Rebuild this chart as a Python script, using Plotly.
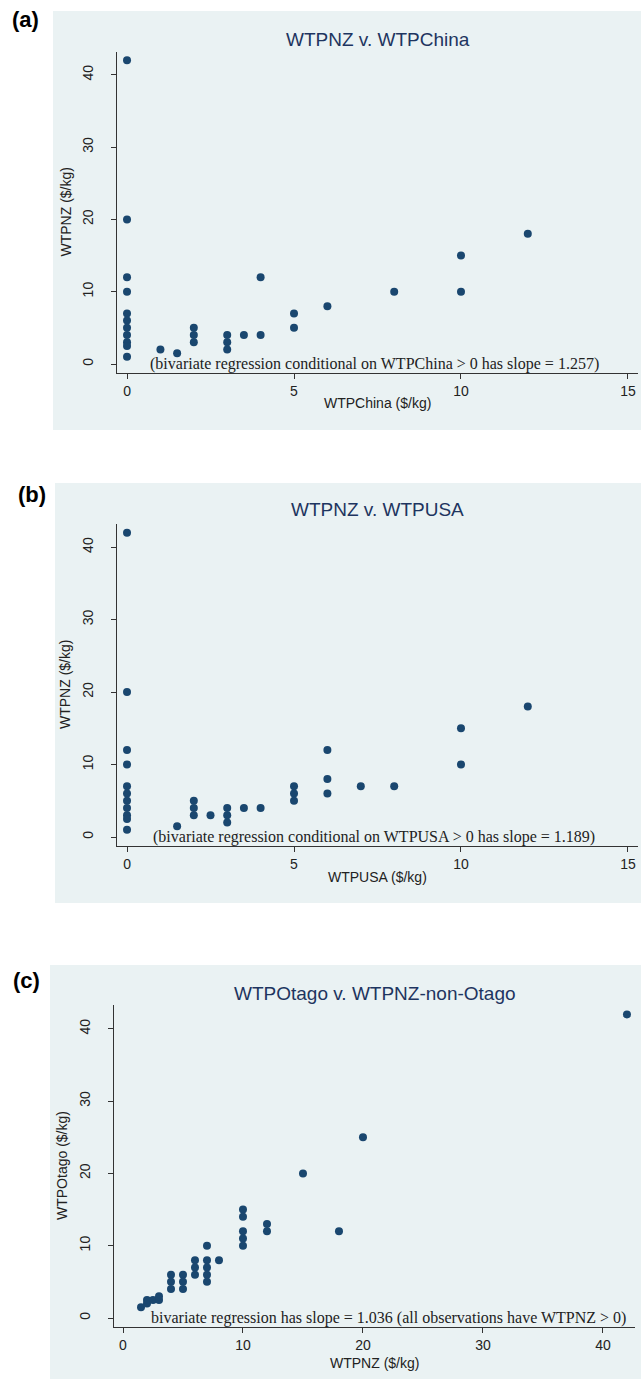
import plotly.graph_objects as go

# ---------------- data ----------------
# Panel (a): WTPNZ v. WTPChina
a_china = [0, 0, 0, 0, 0, 0, 0, 0, 0, 0, 0,
           1, 1.5, 2, 2, 2, 3, 3, 3, 3.5, 4, 4, 5, 5, 6, 8, 10, 10, 12]
a_nz = [42, 20, 12, 10, 7, 6, 5, 4, 3, 2.5, 1,
        2, 1.5, 5, 4, 3, 4, 3, 2, 4, 12, 4, 7, 5, 8, 10, 15, 10, 18]

# Panel (b): WTPNZ v. WTPUSA
b_usa = [0, 0, 0, 0, 0, 0, 0, 0, 0, 0, 0,
         1.5, 2, 2, 2, 2.5, 3, 3, 3, 3.5, 4, 5, 5, 5, 6, 6, 6, 7, 8, 10, 10, 12]
b_nz = [42, 20, 12, 10, 7, 6, 5, 4, 3, 2.5, 1,
        1.5, 5, 4, 3, 3, 4, 3, 2, 4, 4, 7, 6, 5, 12, 8, 6, 7, 7, 15, 10, 18]

# Panel (c): WTPOtago v. WTPNZ-non-Otago
c_nz = [1.5, 2, 2, 2.5, 3, 3,
        4, 4, 4, 5, 5, 5, 6, 6, 6, 7, 7, 7, 7, 7, 8,
        10, 10, 10, 10, 10, 12, 12, 15, 18, 20, 42]
c_otago = [1.5, 2, 2.5, 2.5, 2.5, 3,
           6, 5, 4, 6, 5, 4, 8, 7, 6, 10, 8, 7, 6, 5, 8,
           15, 14, 12, 11, 10, 13, 12, 20, 12, 25, 42]

titles = ["WTPNZ v. WTPChina", "WTPNZ v. WTPUSA", "WTPOtago v. WTPNZ-non-Otago"]
panel_labels = ["(a)", "(b)", "(c)"]
x_titles = ["WTPChina ($/kg)", "WTPUSA ($/kg)", "WTPNZ ($/kg)"]
y_titles = ["WTPNZ ($/kg)", "WTPNZ ($/kg)", "WTPOtago ($/kg)"]
notes = ["(bivariate regression conditional on WTPChina > 0 has slope = 1.257)",
         "(bivariate regression conditional on WTPUSA > 0 has slope = 1.189)",
         "bivariate regression has slope = 1.036 (all observations have WTPNZ > 0)"]
note_x = [7.4, 7.4, 22.1]
x_ticks = [[0, 5, 10, 15], [0, 5, 10, 15], [0, 10, 20, 30, 40]]
y_ticks = [0, 10, 20, 30, 40]

# ---------------- layout geometry (pixels) ----------------
W, H = 641, 1379
def px(x):
    return x / W
def py(y):
    return 1 - y / H

NAVY = "#1a476f"
BG = "#eaf2f3"
TITLE_C = "#1e3560"

# gray boxes: (left, top, right, bottom)
boxes = [(53, 11, 641, 430), (55, 483, 641, 903), (50, 965, 641, 1379)]
# plot areas: (left, top, right, bottom)
plots = [(117, 52, 638, 373), (117, 524, 638, 846), (114, 1005, 635, 1327)]
x_ranges = [[-0.3, 15.3], [-0.3, 15.3], [-0.75, 42.67]]
y_ranges = [[-1.245, 43.15], [-1.24, 43.2], [-1.245, 43.3]]
title_y = [40, 510, 993]
xtitle_off = [30, 31, 36]
label_pos = [(25, 20), (32, 494), (26, 980)]

fig = go.Figure()
series = [(a_china, a_nz), (b_usa, b_nz), (c_nz, c_otago)]
shapes = []
annotations = []
for i in range(3):
    xa = "x" if i == 0 else f"x{i+1}"
    ya = "y" if i == 0 else f"y{i+1}"
    xs, ys = series[i]
    fig.add_trace(go.Scatter(x=xs, y=ys, mode="markers", xaxis=xa, yaxis=ya,
                             marker=dict(color=NAVY, size=8, line=dict(width=0)),
                             showlegend=False, cliponaxis=False))
    l, t, r, b = plots[i]
    axkey = "xaxis" if i == 0 else f"xaxis{i+1}"
    aykey = "yaxis" if i == 0 else f"yaxis{i+1}"
    fig.update_layout(**{
        axkey: dict(domain=[px(l), px(r)], range=x_ranges[i], anchor=ya,
                    tickvals=x_ticks[i], ticks="outside", ticklen=5, tickwidth=1,
                    tickcolor="#333333", showgrid=False, zeroline=False,
                    showline=True, linecolor="#333333", linewidth=1,
                    tickfont=dict(family="Arial", size=14, color="#222222")),
        aykey: dict(domain=[py(b), py(t)], range=y_ranges[i], anchor=xa,
                    tickvals=y_ticks, ticks="outside", ticklen=5, tickwidth=1,
                    tickcolor="#333333", showgrid=True, gridcolor=BG, gridwidth=1.5,
                    zeroline=False, showline=True, linecolor="#333333", linewidth=1,
                    tickangle=-90, ticklabelstandoff=12,
                    tickfont=dict(family="Arial", size=14, color="#222222")),
    })
    bl, bt, br, bb = boxes[i]
    shapes.append(dict(type="rect", xref="paper", yref="paper", layer="below",
                       x0=px(bl), x1=px(br), y0=py(bb), y1=py(bt),
                       fillcolor=BG, line=dict(width=0)))
    annotations.append(dict(text=titles[i], xref="paper", yref="paper",
                            x=px((l + r) / 2), y=py(title_y[i]), showarrow=False,
                            xanchor="center", yanchor="middle",
                            font=dict(family="Arial", size=19, color=TITLE_C)))
    lx, ly = label_pos[i]
    annotations.append(dict(text="<b>" + panel_labels[i] + "</b>", xref="paper", yref="paper",
                            x=px(lx), y=py(ly), showarrow=False,
                            xanchor="center", yanchor="middle",
                            font=dict(family="Arial", size=22, color="#000000")))
    annotations.append(dict(text=x_titles[i], xref="paper", yref="paper",
                            x=px((l + r) / 2), y=py(b + xtitle_off[i]), showarrow=False,
                            xanchor="center", yanchor="middle",
                            font=dict(family="Arial", size=14, color="#222222")))
    annotations.append(dict(text=y_titles[i], xref="paper", yref="paper",
                            x=px(l - 52), y=py((t + b) / 2), showarrow=False,
                            textangle=-90, xanchor="center", yanchor="middle",
                            font=dict(family="Arial", size=14, color="#222222")))
    annotations.append(dict(text=notes[i], xref=xa, yref=ya,
                            x=note_x[i], y=0, showarrow=False,
                            xanchor="center", yanchor="middle",
                            font=dict(family="Liberation Serif, Times New Roman, serif",
                                      size=16, color="#222222")))

fig.update_layout(width=W, height=H, margin=dict(l=0, r=0, t=0, b=0),
                  paper_bgcolor="white", plot_bgcolor="white",
                  shapes=shapes, annotations=annotations, showlegend=False)
fig.write_html("out.html")
